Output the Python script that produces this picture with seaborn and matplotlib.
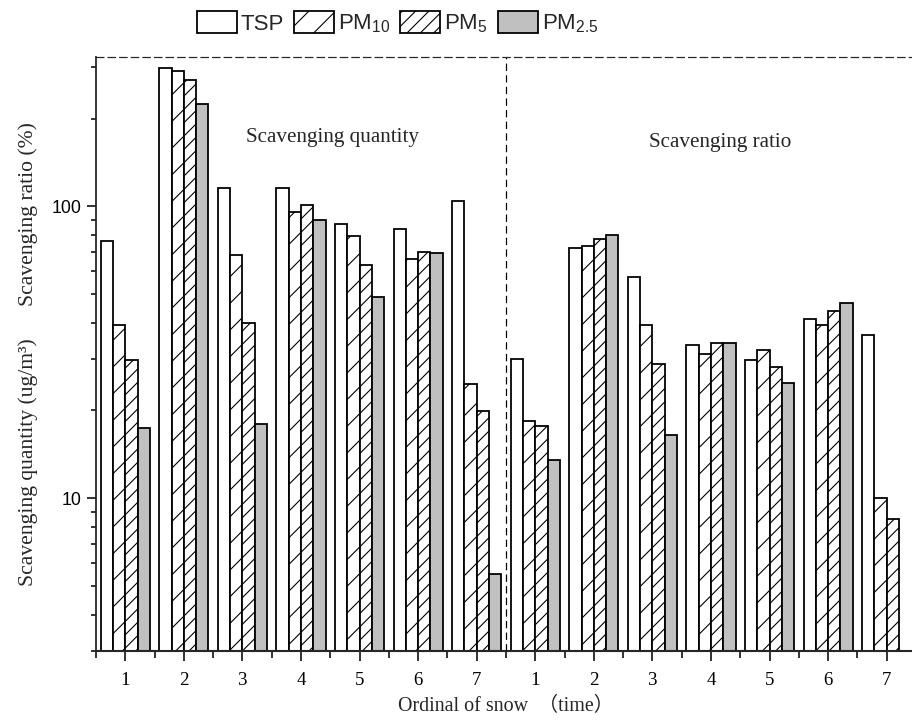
import numpy as np
import pandas as pd
import seaborn as sns
import matplotlib.pyplot as plt
from matplotlib.ticker import FuncFormatter, NullFormatter, LogLocator

# values
snow = ['1', '2', '3', '4', '5', '6', '7']
species = ['TSP', 'PM$_{10}$', 'PM$_{5}$', 'PM$_{2.5}$']

# scavenging quantity (ug/m3)
quantity_tsp = [76, 297, 116, 116, 87, 83.5, 104]
quantity_pm10 = [39.4, 290, 68, 96, 79, 66, 24.6]
quantity_pm5 = [29.8, 272, 40, 101, 63, 70, 19.9]
quantity_pm25 = [17.4, 224, 18, 89.6, 49, 69.5, 5.5]

# scavenging ratio (%)
ratio_tsp = [30, 72.3, 57.2, 33.5, 29.8, 41, 36.3]
ratio_pm10 = [18.4, 73, 39.3, 31.2, 32.1, 39.2, 10]
ratio_pm5 = [17.7, 77.6, 28.9, 34, 28.2, 43.8, 8.5]
ratio_pm25 = [13.5, 79.6, 16.5, 34, 24.8, 46.6, np.nan]

groups = ['Q' + s for s in snow] + ['R' + s for s in snow]
series = [
    quantity_tsp + ratio_tsp,
    quantity_pm10 + ratio_pm10,
    quantity_pm5 + ratio_pm5,
    quantity_pm25 + ratio_pm25,
]
rows = []
for sp, vals in zip(species, series):
    for g, v in zip(groups, vals):
        rows.append((g, sp, v))
df = pd.DataFrame(rows, columns=['group', 'species', 'value'])

colors = dict(zip(species, ['white', 'white', 'white', '#c0c0c0']))
hatches = ['', '/', '//', '']

sns.set_style('ticks')
plt.rcParams['font.family'] = ['Liberation Serif', 'Noto Sans CJK SC']
plt.rcParams['mathtext.fontset'] = 'custom'
plt.rcParams['mathtext.rm'] = 'Liberation Sans'
plt.rcParams['mathtext.default'] = 'regular'
plt.rcParams['hatch.linewidth'] = 1.0

fig = plt.figure(figsize=(11.4, 9.025), dpi=80)
ax = fig.add_axes([96 / 912, 71 / 722, 820 / 912, 594 / 722])

sns.barplot(data=df, x='group', y='value', hue='species', order=groups,
            hue_order=species, palette=colors, saturation=1, width=0.84,
            edgecolor='black', linewidth=1.6, errorbar=None, legend=False,
            ax=ax)

for cont, h in zip(ax.containers, hatches):
    for p in cont.patches:
        p.set_hatch(h)

ax.set_yscale('log')
ax.set_ylim(3, 325)
ax.set_xlim(-0.5, 13.5)
ax.yaxis.set_major_locator(LogLocator(base=10))
ax.yaxis.set_minor_locator(LogLocator(base=10, subs=range(2, 10)))
ax.yaxis.set_major_formatter(FuncFormatter(lambda v, p: f'{v:g}'))
ax.yaxis.set_minor_formatter(NullFormatter())

ax.set_xticks(range(14))
ax.set_xticklabels(snow + snow)
ax.set_xticks(np.arange(-0.5, 14, 1), minor=True)

ax.tick_params(axis='both', which='both', direction='out', width=1.4,
               colors='black')
ax.tick_params(axis='x', which='major', length=9, pad=10, labelsize=17)
ax.tick_params(axis='x', which='minor', length=6)
ax.tick_params(axis='y', which='major', length=8, pad=5, labelsize=16)
ax.tick_params(axis='y', which='minor', length=4.5)
for lab in ax.get_yticklabels():
    lab.set_fontfamily('Liberation Sans')

ax.spines['right'].set_visible(False)
ax.spines['top'].set_linestyle((0, (6, 3.5)))
ax.spines['top'].set_linewidth(1.1)
ax.spines['left'].set_linewidth(1.6)
ax.spines['bottom'].set_linewidth(1.9)

ax.axvline(6.5, color='black', ls=(0, (6, 3.5)), lw=1.1)

ax.text(3.53, 172, 'Scavenging quantity', ha='center', va='center',
        fontsize=19)
ax.text(10.16, 165, 'Scavenging ratio', ha='center', va='center',
        fontsize=19)

ax.set_xlabel('Ordinal of snow  （time）', fontsize=18, labelpad=7)
ax.set_ylabel('Scavenging quantity (ug/m³)      Scavenging ratio (%)',
              fontsize=19.5, labelpad=12)

fig.legend(ax.containers, species, loc='upper center',
           bbox_to_anchor=(0.436, 1.0), ncol=4, frameon=False,
           prop={'family': 'Liberation Sans', 'size': 20},
           handlelength=1.8, handleheight=1.17, handletextpad=0.18,
           columnspacing=0.45, borderaxespad=0.1)

fig.savefig('out.png', dpi=80)
